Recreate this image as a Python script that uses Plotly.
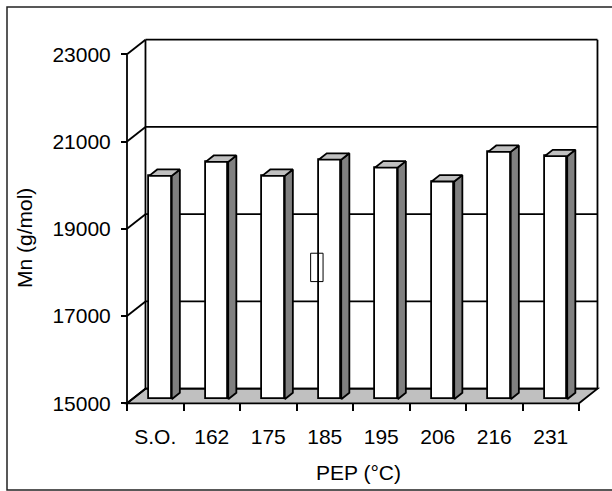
import plotly.graph_objects as go

# ---------------- data ----------------
CATEGORIES = ["S.O.", "162", "175", "185", "195", "206", "216", "231"]
MN_VALUES = [20120, 20440, 20120, 20490, 20310, 19990, 20670, 20570]
Y_TICKS = [15000, 17000, 19000, 21000, 23000]
X_TITLE = "PEP (°C)"
Y_TITLE = "Mn (g/mol)"

# ---------------- pseudo-3D geometry (style) ----------------
Y_MIN, Y_MAX = Y_TICKS[0], Y_TICKS[-1]
DEPTH_X = 0.327      # depth shift in category units
DEPTH_Y = 335        # depth shift in value units
BAR_FRONT = 0.28     # depth fraction of bar front face
BAR_BACK = 0.72      # depth fraction of bar back face
BAR_WIDTH = 0.4

# pixel layout
W, H = 612, 491
PL, PR, PT, PB = 120, 603, 35, 410          # plot area in px
AX_X_PX, AX_Y_PX = 127, 403.3               # front axis position in px
PX_PER_CAT = 56.5
PX_PER_UNIT = (403.3 - 54.3) / (Y_MAX - Y_MIN)

x_range = [-0.5 - (AX_X_PX - PL) / PX_PER_CAT, -0.5 + (PR - AX_X_PX) / PX_PER_CAT]
y_range = [Y_MIN - (PB - AX_Y_PX) / PX_PER_UNIT, Y_MIN + (AX_Y_PX - PT) / PX_PER_UNIT]
pw, ph = PR - PL, PB - PT

n = len(CATEGORIES)
idx = list(range(n))
LINE = dict(color="black", width=1.8)
FONT = "Liberation Sans, Arial, sans-serif"

fig = go.Figure()
shapes = []

x_left, x_right = -0.5, n - 0.5

# floor
floor_pts = [(x_left, Y_MIN), (x_left + DEPTH_X, Y_MIN + DEPTH_Y),
             (x_right + DEPTH_X, Y_MIN + DEPTH_Y), (x_right, Y_MIN)]
path = "M " + " L ".join(f"{px},{py}" for px, py in floor_pts) + " Z"
shapes.append(dict(type="path", path=path, xref="x", yref="y", layer="below",
                   fillcolor="#C0C0C0", line=LINE))

# back wall gridlines and side-wall diagonals
for v in Y_TICKS:
    shapes.append(dict(type="line", xref="x", yref="y", layer="below",
                       x0=x_left + DEPTH_X, x1=x_right + DEPTH_X,
                       y0=v + DEPTH_Y, y1=v + DEPTH_Y, line=LINE))
    shapes.append(dict(type="line", xref="x", yref="y", layer="below",
                       x0=x_left, x1=x_left + DEPTH_X,
                       y0=v, y1=v + DEPTH_Y, line=LINE))
# back wall verticals
for xv in (x_left + DEPTH_X, x_right + DEPTH_X):
    shapes.append(dict(type="line", xref="x", yref="y", layer="below",
                       x0=xv, x1=xv, y0=Y_MIN + DEPTH_Y, y1=Y_MAX + DEPTH_Y, line=LINE))
# front value axis line
shapes.append(dict(type="line", xref="x", yref="y", layer="below",
                   x0=x_left, x1=x_left, y0=Y_MIN, y1=Y_MAX, line=LINE))

# bars: front faces
fdx, fdy = BAR_FRONT * DEPTH_X, BAR_FRONT * DEPTH_Y
ddx, ddy = (BAR_BACK - BAR_FRONT) * DEPTH_X, (BAR_BACK - BAR_FRONT) * DEPTH_Y
fig.add_trace(go.Bar(
    x=[i + fdx for i in idx], y=[v - Y_MIN for v in MN_VALUES], base=Y_MIN + fdy,
    width=BAR_WIDTH, marker=dict(color="white", line=LINE),
    hovertext=CATEGORIES, showlegend=False))

for i, v in zip(idx, MN_VALUES):
    xl = i + fdx - BAR_WIDTH / 2
    xr = i + fdx + BAR_WIDTH / 2
    yb = Y_MIN + fdy
    yt = v + fdy
    # side face
    fig.add_trace(go.Scatter(
        x=[xr, xr + ddx, xr + ddx, xr, xr], y=[yb, yb + ddy, yt + ddy, yt, yb],
        mode="lines", fill="toself", fillcolor="#808080", line=LINE,
        hoverinfo="skip", showlegend=False))
    # top face
    fig.add_trace(go.Scatter(
        x=[xl, xl + ddx, xr + ddx, xr, xl], y=[yt, yt + ddy, yt + ddy, yt, yt],
        mode="lines", fill="toself", fillcolor="#C0C0C0", line=LINE,
        hoverinfo="skip", showlegend=False))

# small stray box seen near the 185 bar
shapes.append(dict(type="rect", xref="x", yref="y", layer="above",
                   x0=2.75, x1=2.97, y0=17790, y1=18440,
                   line=dict(color="black", width=1), fillcolor="rgba(0,0,0,0)"))

# outer chart border
shapes.append(dict(type="rect", xref="paper", yref="paper", layer="above",
                   x0=(7 - PL) / pw, x1=(630 - PL) / pw,
                   y0=(PB - 490) / ph, y1=(PB - 7) / ph,
                   line=dict(color="#222222", width=1.5), fillcolor="rgba(0,0,0,0)"))

TITLE_FONT = dict(family=FONT, size=21, color="black")
annotations = [
    dict(text=Y_TITLE, xref="paper", yref="paper", x=(24 - PL) / pw, y=(PB - 238) / ph,
         xanchor="center", yanchor="middle", textangle=-90, showarrow=False,
         font=TITLE_FONT),
    dict(text=X_TITLE, xref="paper", yref="paper", x=(358 - PL) / pw, y=(PB - 472) / ph,
         xanchor="center", yanchor="middle", showarrow=False,
         font=TITLE_FONT),
]

fig.update_layout(
    width=W, height=H,
    margin=dict(l=PL, r=W - PR, t=PT, b=H - PB, autoexpand=False),
    paper_bgcolor="white", plot_bgcolor="white",
    font=dict(family=FONT, size=21, color="black"),
    shapes=shapes, annotations=annotations, showlegend=False, bargap=0,
    xaxis=dict(range=x_range, showgrid=False, zeroline=False, showline=False,
               anchor="free", position=(PB - AX_Y_PX) / ph,
               tickmode="array", tickvals=idx, ticktext=CATEGORIES,
               tickfont=dict(family=FONT, size=21, color="black"),
               ticks="outside", ticklen=14, tickcolor="rgba(0,0,0,0)",
               minor=dict(tickmode="array", tickvals=[i - 0.5 for i in range(n + 1)],
                          ticks="outside", ticklen=7, tickcolor="black", tickwidth=1.8),
               fixedrange=True),
    yaxis=dict(range=y_range, showgrid=False, zeroline=False, showline=False,
               anchor="free", position=(AX_X_PX - PL) / pw,
               tickmode="array", tickvals=Y_TICKS, ticktext=[str(t) for t in Y_TICKS],
               tickfont=dict(family=FONT, size=21, color="black"),
               ticks="outside", ticklen=6, tickcolor="black", tickwidth=1.8,
               ticklabelstandoff=6,
               fixedrange=True),
)

fig.write_html("out.html")
